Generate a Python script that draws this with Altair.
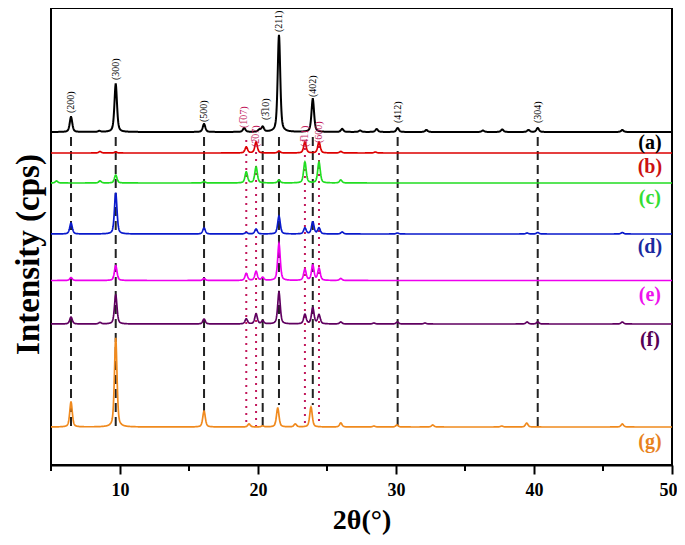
import altair as alt
import numpy as np
import pandas as pd

alt.data_transformers.disable_max_rows()

FONT = "Liberation Serif"

# ---- series meta ----
SERIES = ["(a)", "(b)", "(c)", "(d)", "(e)", "(f)", "(g)"]
LINE_COLORS = ["#000000", "#DD0000", "#22DD22", "#0A1ACC", "#EE00EE", "#600060", "#F08A1E"]
LABEL_COLORS = ["#000000", "#CC1111", "#33DD33", "#1A2AA0", "#EE11EE", "#550055", "#E8821E"]
LINE_WIDTHS = [2.0, 1.7, 1.7, 1.7, 1.7, 1.7, 1.7]
BASELINES = [333, 312, 282, 231, 184.5, 141, 38]
LABEL_Y = [322, 298, 267, 218, 170, 125, 23]
LABEL_X = 48.4

# ---- peak tables (2theta, height) ----
POS_A = [6.45, 8.5, 9.69, 16.09, 19.0, 20.1, 20.34, 21.52, 23.97, 26.1, 27.4, 28.6, 30.12, 32.2, 36.3, 37.7, 39.6, 40.27, 46.4]
H_A = [15, 1, 48, 8, 4, 2, 5, 97, 33, 3, 1.5, 3, 4, 2, 1.5, 2.5, 2, 4, 2]
POS_B = [8.55, 9.69, 19.15, 19.86, 21.52, 23.4, 24.42, 26.0, 28.5]
H_B = [1.5, 1, 6, 11, 2, 11, 11, 1.5, 1]
POS_C = [5.4, 8.55, 9.69, 16.09, 19.15, 19.86, 21.52, 23.4, 24.42, 26.0]
H_C = [2, 2, 8, 1.5, 11, 16, 3, 21, 21, 3]
POS_D = [6.45, 9.69, 16.09, 19.15, 19.86, 21.52, 23.4, 23.97, 24.42, 26.1, 30.1, 39.5, 40.27, 46.4]
H_D = [11, 41, 6, 1.5, 5, 18, 6, 12, 6, 2, 1, 1, 1.5, 1.5]
POS_E = [6.45, 9.69, 16.09, 19.15, 19.86, 20.34, 21.52, 23.4, 23.97, 24.42, 26.0]
H_E = [3, 15, 2, 7, 9, 3, 37, 11, 15, 12, 2]
POS_F = [6.45, 8.55, 9.69, 16.09, 19.15, 19.86, 20.34, 21.52, 23.4, 23.97, 24.42, 26.0, 28.4, 30.1, 32.1, 39.5, 40.27, 46.4]
H_F = [7, 1.5, 29, 5, 5, 10, 3, 31.5, 9.5, 16, 9, 2, 1, 2, 1, 2, 2, 2]
POS_G = [6.45, 9.69, 16.09, 19.35, 20.34, 21.43, 22.7, 23.84, 26.0, 28.4, 30.07, 32.66, 37.66, 39.47, 46.4]
H_G = [25, 89, 16, 3, 1, 19, 3, 20, 4, 1, 2, 2, 1, 4, 3]
PEAK_POS = [POS_A, POS_B, POS_C, POS_D, POS_E, POS_F, POS_G]
PEAK_H = [H_A, H_B, H_C, H_D, H_E, H_F, H_G]
FWHM = 0.22

# ---- reference lines ----
DASH_X = [6.45, 9.69, 16.09, 20.34, 21.52, 23.97, 30.12, 40.27]
DASH_TOP = [328, 328, 328, 328, 328, 328, 328, 328]
DASH_BOT = [35, 35, 53, 38, 60, 60, 38, 38]
DOT_X = [19.15, 19.86, 23.4, 24.42]
DOT_TOP = [325, 313, 317, 319]
DOT_BOT = [38, 38, 38, 38]

# ---- peak labels ----
HKL_BLACK = ["(200)", "(300)", "(500)", "(3\u030510)", "(211)", "(402)", "(412)", "(304)"]
HKL_BLACK_X = [6.45, 9.69, 16.09, 20.58, 21.52, 23.97, 30.12, 40.27]
HKL_BLACK_Y = [352, 385, 343, 345, 433, 368, 342, 342]
HKL_RED = ["(1\u030507)", "(2\u030507)", "(4\u030511)", "(600)"]
HKL_RED_X = [19.0, 19.86, 23.4, 24.42]
HKL_RED_Y = [337, 318, 318, 322]

X_TICKS = [10, 20, 30, 40, 50]
MINOR_TICKS = [5, 15, 25, 35, 45]

# ---- build traces ----
xs = np.round(np.arange(5.0, 50.0001, 0.02), 3)
frames = []
for i, name in enumerate(SERIES):
    y = np.full_like(xs, BASELINES[i], dtype=float)
    for p, h in zip(PEAK_POS[i], PEAK_H[i]):
        d = (xs - p) / (FWHM / 2)
        y += h * (0.5 * np.exp(-np.log(2) * d ** 2) + 0.5 / (1 + d ** 2))
    frames.append(pd.DataFrame({"x": xs, "y": np.round(y, 2), "s": name,
                                "col": LINE_COLORS[i], "w": LINE_WIDTHS[i]}))
traces = pd.concat(frames, ignore_index=True)

dash_df = pd.DataFrame({"x": DASH_X, "y": DASH_TOP, "y2": DASH_BOT})
dot_df = pd.DataFrame({"x": DOT_X, "y": DOT_TOP, "y2": DOT_BOT})
lab_black = pd.DataFrame({"x": HKL_BLACK_X, "y": HKL_BLACK_Y, "t": HKL_BLACK})
lab_red = pd.DataFrame({"x": HKL_RED_X, "y": HKL_RED_Y, "t": HKL_RED})
ser_lab = pd.DataFrame({"x": [LABEL_X] * 7, "y": LABEL_Y, "t": SERIES, "col": LABEL_COLORS})
minor_df = pd.DataFrame({"x": MINOR_TICKS})

xscale = alt.Scale(domain=[5, 50], nice=False, zero=False)
yscale = alt.Scale(domain=[0, 457], nice=False, zero=False)

xaxis = alt.Axis(values=X_TICKS, title="2\u03b8(\u00b0)", grid=False, tickSize=9, tickWidth=2,
                 tickColor="black", domainColor="black", domainWidth=2,
                 labelFont=FONT, labelFontSize=18, labelFontWeight="bold", labelColor="black",
                 labelBaseline="alphabetic", labelPadding=21,
                 labelFlush=True, labelFlushOffset=5, format="d",
                 titleFont=FONT, titleFontSize=28, titleFontWeight="bold", titleColor="black",
                 titleBaseline="alphabetic", titleY=63)
yaxis = alt.Axis(title="Intensity (cps)", labels=False, ticks=False, domain=False, grid=False,
                 titleFont=FONT, titleFontSize=33, titleFontWeight="bold", titleColor="black",
                 titleAngle=270, titleAlign="center", titleBaseline="alphabetic",
                 titleX=-13, titleY=246)

X = alt.X("x:Q", scale=xscale, axis=xaxis)
Y = alt.Y("y:Q", scale=yscale, axis=yaxis)

dash = alt.Chart(dash_df).mark_rule(color="#222222", strokeWidth=2, strokeDash=[9, 5]).encode(
    x=X, y=Y, y2="y2:Q")
dot = alt.Chart(dot_df).mark_rule(color="#C2185B", strokeWidth=2, strokeDash=[2, 5]).encode(
    x=X, y=Y, y2="y2:Q")
lines = alt.Chart(traces).mark_line(interpolate="linear").encode(
    x=X, y=Y, detail="s:N",
    color=alt.Color("col:N", scale=None),
    strokeWidth=alt.StrokeWidth("w:Q", scale=None))
t_black = alt.Chart(lab_black).mark_text(angle=270, align="left", baseline="middle",
                                         font=FONT, fontSize=10, color="black").encode(
    x=X, y=Y, text="t:N")
t_red = alt.Chart(lab_red).mark_text(angle=270, align="left", baseline="middle",
                                     font=FONT, fontSize=10, color="#C2185B").encode(
    x=X, y=Y, text="t:N")
t_ser = alt.Chart(ser_lab).mark_text(align="center", baseline="middle", font=FONT,
                                     fontSize=20, fontWeight="bold").encode(
    x=X, y=Y, text="t:N", color=alt.Color("col:N", scale=None))
minor = alt.Chart(minor_df).mark_rule(color="black", strokeWidth=2).encode(
    x=X, y=alt.value(457), y2=alt.value(463))

chart = alt.layer(dash, dot, lines, t_black, t_red, t_ser, minor).properties(
    width=621, height=457,
    autosize=alt.AutoSizeParams(type="none"),
    padding={"left": 43, "top": 0, "right": 5, "bottom": 71},
).configure_view(stroke="black", strokeWidth=2)

chart.save("out.html", embed_options={"renderer": "svg", "actions": False})
